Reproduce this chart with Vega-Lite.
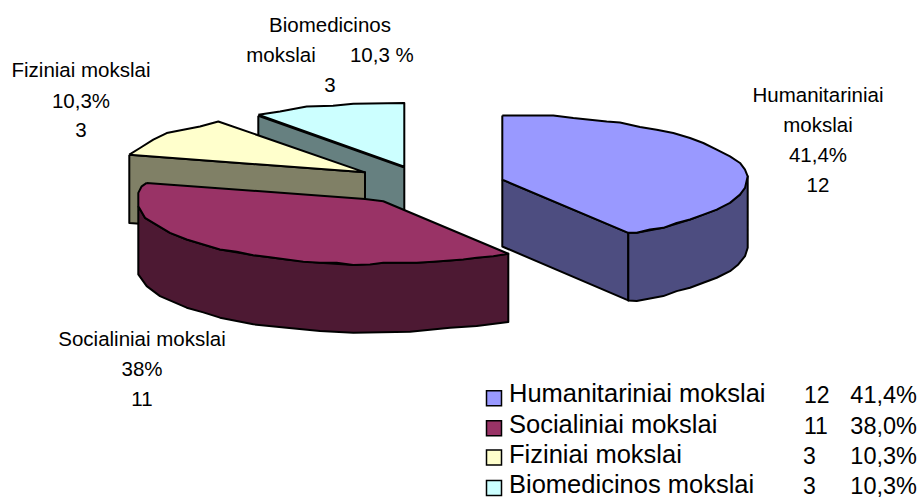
{"$schema":"https://vega.github.io/schema/vega-lite/v6.json","width":923,"height":499,"autosize":{"type":"fit","contains":"padding"},"padding":0,"background":"white","view":{"stroke":null},"config":{"axis":{"disable":true},"text":{"font":"Liberation Sans"}},
"resolve":{"scale":{"fill":"independent"}},
"datasets":{"slices":[
{"part":"bio-side","i":0,"x":258.3,"y":116},{"part":"bio-side","i":1,"x":404.3,"y":168},{"part":"bio-side","i":2,"x":404.3,"y":231},{"part":"bio-side","i":3,"x":258.3,"y":179},{"part":"bio-side","i":4,"x":258.3,"y":116},
{"part":"bio-top","i":0,"x":258.3,"y":115},{"part":"bio-top","i":1,"x":280,"y":111.7},{"part":"bio-top","i":2,"x":306.7,"y":106.7},{"part":"bio-top","i":3,"x":333,"y":106},{"part":"bio-top","i":4,"x":353.3,"y":104},{"part":"bio-top","i":5,"x":404.3,"y":103.3},{"part":"bio-top","i":6,"x":404.3,"y":167},{"part":"bio-top","i":7,"x":258.3,"y":115},
{"part":"fiz-side","i":0,"x":129.3,"y":155},{"part":"fiz-side","i":1,"x":365,"y":172.7},{"part":"fiz-side","i":2,"x":365,"y":240},{"part":"fiz-side","i":3,"x":129.3,"y":223.5},{"part":"fiz-side","i":4,"x":129.3,"y":155},
{"part":"fiz-top","i":0,"x":129.3,"y":155},{"part":"fiz-top","i":1,"x":140,"y":148.3},{"part":"fiz-top","i":2,"x":153.3,"y":140},{"part":"fiz-top","i":3,"x":166.7,"y":133.3},{"part":"fiz-top","i":4,"x":183.3,"y":130},{"part":"fiz-top","i":5,"x":200,"y":126.7},{"part":"fiz-top","i":6,"x":218.3,"y":121.7},{"part":"fiz-top","i":7,"x":365,"y":172.7},{"part":"fiz-top","i":8,"x":129.3,"y":155},
{"part":"soc-side","i":0,"x":138.3,"y":206.7},{"part":"soc-side","i":1,"x":145,"y":218.3},{"part":"soc-side","i":2,"x":153.3,"y":223.3},{"part":"soc-side","i":3,"x":170,"y":233.3},{"part":"soc-side","i":4,"x":186.7,"y":240},{"part":"soc-side","i":5,"x":220,"y":250},{"part":"soc-side","i":6,"x":253.3,"y":255.7},{"part":"soc-side","i":7,"x":286.7,"y":260},{"part":"soc-side","i":8,"x":320,"y":263.3},{"part":"soc-side","i":9,"x":353.3,"y":265.5},{"part":"soc-side","i":10,"x":383.3,"y":263.3},{"part":"soc-side","i":11,"x":416.7,"y":263.3},{"part":"soc-side","i":12,"x":450,"y":261},{"part":"soc-side","i":13,"x":476.7,"y":258.3},{"part":"soc-side","i":14,"x":508.3,"y":254.3},{"part":"soc-side","i":15,"x":508.3,"y":322.7},{"part":"soc-side","i":16,"x":476.7,"y":326.7},{"part":"soc-side","i":17,"x":450,"y":328.3},{"part":"soc-side","i":18,"x":410,"y":332.3},{"part":"soc-side","i":19,"x":353.3,"y":333.3},{"part":"soc-side","i":20,"x":320,"y":331.7},{"part":"soc-side","i":21,"x":286.7,"y":328.3},{"part":"soc-side","i":22,"x":253.3,"y":325},{"part":"soc-side","i":23,"x":220,"y":318.3},{"part":"soc-side","i":24,"x":203.3,"y":313},{"part":"soc-side","i":25,"x":186.7,"y":308.3},{"part":"soc-side","i":26,"x":160,"y":296.7},{"part":"soc-side","i":27,"x":146.7,"y":286.7},{"part":"soc-side","i":28,"x":138.3,"y":275},{"part":"soc-side","i":29,"x":138.3,"y":206.7},
{"part":"soc-top","i":0,"x":146.7,"y":183.3},{"part":"soc-top","i":1,"x":141.7,"y":186.7},{"part":"soc-top","i":2,"x":138.3,"y":193.3},{"part":"soc-top","i":3,"x":138.3,"y":206.7},{"part":"soc-top","i":4,"x":145,"y":218.3},{"part":"soc-top","i":5,"x":153.3,"y":223.3},{"part":"soc-top","i":6,"x":170,"y":233.3},{"part":"soc-top","i":7,"x":186.7,"y":240},{"part":"soc-top","i":8,"x":203.3,"y":245},{"part":"soc-top","i":9,"x":220,"y":250},{"part":"soc-top","i":10,"x":236.7,"y":252.3},{"part":"soc-top","i":11,"x":253.3,"y":255.7},{"part":"soc-top","i":12,"x":270,"y":257.7},{"part":"soc-top","i":13,"x":286.7,"y":260},{"part":"soc-top","i":14,"x":303.3,"y":262.3},{"part":"soc-top","i":15,"x":320,"y":263.3},{"part":"soc-top","i":16,"x":336.7,"y":263.3},{"part":"soc-top","i":17,"x":353.3,"y":265.5},{"part":"soc-top","i":18,"x":370,"y":265},{"part":"soc-top","i":19,"x":383.3,"y":263.3},{"part":"soc-top","i":20,"x":400,"y":263.3},{"part":"soc-top","i":21,"x":416.7,"y":263.3},{"part":"soc-top","i":22,"x":433.3,"y":262.3},{"part":"soc-top","i":23,"x":450,"y":261},{"part":"soc-top","i":24,"x":463.3,"y":260},{"part":"soc-top","i":25,"x":476.7,"y":258.3},{"part":"soc-top","i":26,"x":493.3,"y":256.7},{"part":"soc-top","i":27,"x":508.3,"y":254.3},{"part":"soc-top","i":28,"x":383.3,"y":201.7},{"part":"soc-top","i":29,"x":365,"y":199.3},{"part":"soc-top","i":30,"x":146.7,"y":183.3},
{"part":"hum-front","i":0,"x":502.3,"y":180},{"part":"hum-front","i":1,"x":628.3,"y":233.3},{"part":"hum-front","i":2,"x":628.3,"y":301},{"part":"hum-front","i":3,"x":502.3,"y":247},{"part":"hum-front","i":4,"x":502.3,"y":180},
{"part":"hum-side","i":0,"x":628.3,"y":233.3},{"part":"hum-side","i":1,"x":636.7,"y":233.3},{"part":"hum-side","i":2,"x":663.3,"y":228.3},{"part":"hum-side","i":3,"x":690,"y":220},{"part":"hum-side","i":4,"x":716.7,"y":210},{"part":"hum-side","i":5,"x":740,"y":195},{"part":"hum-side","i":6,"x":747.7,"y":176.7},{"part":"hum-side","i":7,"x":747.7,"y":248.3},{"part":"hum-side","i":8,"x":745,"y":256.7},{"part":"hum-side","i":9,"x":738.3,"y":265},{"part":"hum-side","i":10,"x":730,"y":271.7},{"part":"hum-side","i":11,"x":716.7,"y":278.3},{"part":"hum-side","i":12,"x":703.3,"y":283.3},{"part":"hum-side","i":13,"x":690,"y":288.3},{"part":"hum-side","i":14,"x":676.7,"y":291.7},{"part":"hum-side","i":15,"x":663.3,"y":296.7},{"part":"hum-side","i":16,"x":650,"y":299},{"part":"hum-side","i":17,"x":636.7,"y":301.7},{"part":"hum-side","i":18,"x":628.3,"y":301},{"part":"hum-side","i":19,"x":628.3,"y":233.3},
{"part":"hum-top","i":0,"x":502.3,"y":115.7},{"part":"hum-top","i":1,"x":553.3,"y":115.7},{"part":"hum-top","i":2,"x":573.3,"y":118.3},{"part":"hum-top","i":3,"x":590,"y":120},{"part":"hum-top","i":4,"x":606.7,"y":121.7},{"part":"hum-top","i":5,"x":620,"y":122.7},{"part":"hum-top","i":6,"x":640,"y":127.3},{"part":"hum-top","i":7,"x":656.7,"y":130},{"part":"hum-top","i":8,"x":673.3,"y":133.3},{"part":"hum-top","i":9,"x":690,"y":138.3},{"part":"hum-top","i":10,"x":703.3,"y":143.3},{"part":"hum-top","i":11,"x":716.7,"y":150},{"part":"hum-top","i":12,"x":730,"y":156.7},{"part":"hum-top","i":13,"x":740,"y":163.3},{"part":"hum-top","i":14,"x":745,"y":170},{"part":"hum-top","i":15,"x":747.7,"y":176.7},{"part":"hum-top","i":16,"x":745,"y":188.3},{"part":"hum-top","i":17,"x":740,"y":195},{"part":"hum-top","i":18,"x":730,"y":203.3},{"part":"hum-top","i":19,"x":716.7,"y":210},{"part":"hum-top","i":20,"x":703.3,"y":215},{"part":"hum-top","i":21,"x":690,"y":220},{"part":"hum-top","i":22,"x":676.7,"y":223.3},{"part":"hum-top","i":23,"x":663.3,"y":228.3},{"part":"hum-top","i":24,"x":650,"y":230},{"part":"hum-top","i":25,"x":636.7,"y":233.3},{"part":"hum-top","i":26,"x":628.3,"y":233.3},{"part":"hum-top","i":27,"x":502.3,"y":180},{"part":"hum-top","i":28,"x":502.3,"y":115.7}
],
"labels":[
{"t":"Biomedicinos","x":330,"y":32},{"t":"mokslai\u00a0\u00a0\u00a0\u00a0\u00a0\u00a010,3 %","x":330,"y":62},{"t":"3","x":330,"y":92},
{"t":"Fiziniai mokslai","x":81,"y":77},{"t":"10,3%","x":81,"y":108},{"t":"3","x":81,"y":137},
{"t":"Humanitariniai","x":818,"y":102},{"t":"mokslai","x":818,"y":132},{"t":"41,4%","x":818,"y":162},{"t":"12","x":818,"y":192},
{"t":"Socialiniai mokslai","x":142,"y":347},{"t":"38%","x":142,"y":377},{"t":"11","x":142,"y":407}
],
"legend":[
{"sritis":"Humanitariniai mokslai","kiekis":"12","dalis":"41,4%","x":494,"y":399,"tx":509,"ty":403,"cx":804,"cy":404,"px":917},
{"sritis":"Socialiniai mokslai","kiekis":"11","dalis":"38,0%","x":494,"y":429,"tx":509,"ty":434,"cx":804,"cy":435,"px":917},
{"sritis":"Fiziniai mokslai","kiekis":"3","dalis":"10,3%","x":494,"y":458.5,"tx":509,"ty":464,"cx":803,"cy":465,"px":917},
{"sritis":"Biomedicinos mokslai","kiekis":"3","dalis":"10,3%","x":494,"y":489,"tx":509,"ty":494,"cx":803,"cy":495,"px":917}
]},
"layer":[
{"data":{"name":"slices"},"mark":{"type":"line","stroke":"black","strokeWidth":2,"strokeJoin":"round","interpolate":"linear"},
"encoding":{"x":{"field":"x","type":"quantitative","scale":{"domain":[0,923]},"axis":null},"y":{"field":"y","type":"quantitative","scale":{"domain":[499,0]},"axis":null},"order":{"field":"i"},
"fill":{"field":"part","type":"nominal","legend":null,"sort":null,"scale":{"domain":["bio-side","bio-top","fiz-side","fiz-top","soc-side","soc-top","hum-front","hum-side","hum-top"],"range":["#668080","#CCFFFF","#808066","#FFFFCC","#4D1933","#993366","#4D4D80","#4D4D80","#9999FF"]}}}},
{"data":{"name":"labels"},"mark":{"type":"text","fontSize":20.5,"align":"center","baseline":"alphabetic","color":"black"},
"encoding":{"x":{"field":"x","type":"quantitative","scale":{"domain":[0,923]},"axis":null},"y":{"field":"y","type":"quantitative","scale":{"domain":[499,0]},"axis":null},"text":{"field":"t"}}},
{"data":{"name":"legend"},"mark":{"type":"point","shape":"square","filled":true,"size":225,"stroke":"black","strokeWidth":1.5,"opacity":1},
"encoding":{"x":{"field":"x","type":"quantitative","scale":{"domain":[0,923]},"axis":null},"y":{"field":"y","type":"quantitative","scale":{"domain":[499,0]},"axis":null},
"fill":{"field":"sritis","type":"nominal","legend":null,"sort":null,"scale":{"domain":["Humanitariniai mokslai","Socialiniai mokslai","Fiziniai mokslai","Biomedicinos mokslai"],"range":["#9999FF","#993366","#FFFFCC","#CCFFFF"]}}}},
{"data":{"name":"legend"},"mark":{"type":"text","fontSize":25.5,"align":"left","baseline":"alphabetic","color":"black"},
"encoding":{"x":{"field":"tx","type":"quantitative","scale":{"domain":[0,923]},"axis":null},"y":{"field":"ty","type":"quantitative","scale":{"domain":[499,0]},"axis":null},"text":{"field":"sritis"}}},
{"data":{"name":"legend"},"mark":{"type":"text","fontSize":23,"align":"left","baseline":"alphabetic","color":"black"},
"encoding":{"x":{"field":"cx","type":"quantitative","scale":{"domain":[0,923]},"axis":null},"y":{"field":"cy","type":"quantitative","scale":{"domain":[499,0]},"axis":null},"text":{"field":"kiekis"}}},
{"data":{"name":"legend"},"mark":{"type":"text","fontSize":23.5,"align":"right","baseline":"alphabetic","color":"black"},
"encoding":{"x":{"field":"px","type":"quantitative","scale":{"domain":[0,923]},"axis":null},"y":{"field":"cy","type":"quantitative","scale":{"domain":[499,0]},"axis":null},"text":{"field":"dalis"}}}
]}
